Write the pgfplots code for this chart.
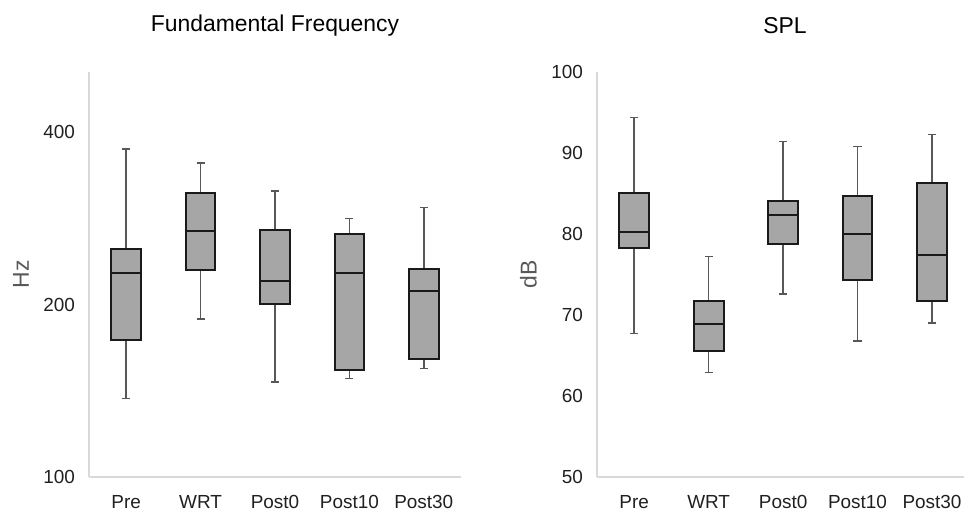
\documentclass[border=0pt]{standalone}
\usepackage{fontspec}
\setmainfont{Liberation Sans}
\usepackage{pgfplots}
\pgfplotsset{compat=1.18}
\definecolor{boxgray}{HTML}{A6A6A6}
\definecolor{boxedge}{HTML}{1A1A1A}
\definecolor{whisk}{HTML}{585858}
\definecolor{axgray}{HTML}{D9D9D9}
\definecolor{labgray}{HTML}{595959}
\definecolor{tickc}{HTML}{202020}
\pgfplotsset{
  whiskline/.style={draw=whisk, line width=1.6bp, mark=none},
  boxline/.style={draw=boxedge, line width=2bp, fill=boxgray, mark=none},
  medline/.style={draw=boxedge, line width=2bp, mark=none},
  mybox/.style={
    scale only axis,
    height=405bp,
    xmin=0.5,
    clip=false,
    axis x line*=bottom, axis y line*=left,
    axis line style={draw=axgray, line width=1.2bp, -},
    major tick length=0pt,
    xtick={1,2,3,4,5},
    xticklabels={Pre,WRT,Post0,Post10,Post30},
    /pgf/number format/assume math mode=true,
    ticklabel style={font=\fontsize{19}{21}\selectfont, text=tickc},
    xticklabel style={yshift=-14.5bp},
    yticklabel style={xshift=-10.5bp},
    title style={font=\fontsize{23}{26}\selectfont, anchor=center},
    ylabel style={font=\fontsize{23}{26}\selectfont, text=labgray, anchor=center},
  }
}
% position, lower whisker, lower quartile, median, upper quartile, upper whisker
\newcommand{\bxp}[6]{%
  \pgfmathsetmacro{\xl}{#1-0.2}\pgfmathsetmacro{\xr}{#1+0.2}%
  \pgfmathsetmacro{\cl}{#1-0.055}\pgfmathsetmacro{\cr}{#1+0.055}%
  \edef\tmp{%
  \noexpand\addplot[whiskline] coordinates {(#1,#5) (#1,#6)};
  \noexpand\addplot[whiskline] coordinates {(#1,#2) (#1,#3)};
  \noexpand\addplot[whiskline] coordinates {(\cl,#6) (\cr,#6)};
  \noexpand\addplot[whiskline] coordinates {(\cl,#2) (\cr,#2)};
  \noexpand\addplot[boxline] coordinates {(\xl,#3) (\xr,#3) (\xr,#5) (\xl,#5)} --cycle;
  \noexpand\addplot[medline] coordinates {(\xl,#4) (\xr,#4)};
  }\tmp}
\begin{document}
\begin{tikzpicture}
\useasboundingbox (0,0) rectangle (971bp,513bp);
% Left: Fundamental Frequency
\begin{axis}[mybox,
  at={(89bp,36bp)}, anchor=south west,
  width=372bp, xmax=5.5,
  ymode=log,
  ymin=100, ymax=510,
  ytick={100,200,400}, yticklabels={100,200,400},
  title={Fundamental Frequency},
  title style={at={(axis description cs:0.5,1.10)}},
  ylabel={Hz},
  ylabel style={at={(axis description cs:-0.183,0.5)}},
]
\bxp{1}{137.2}{173.5}{227.5}{250.5}{374.5}
\bxp{2}{189}{230}{269}{314}{354}
\bxp{3}{146.6}{200.3}{220}{270}{316}
\bxp{4}{148.7}{153.6}{227.5}{266}{283}
\bxp{5}{154.6}{160.6}{211.6}{231}{295.5}
\end{axis}
% Right: SPL
\begin{axis}[mybox,
  at={(597bp,36bp)}, anchor=south west,
  width=367bp, xmax=5.43,
  ymin=50, ymax=100,
  ytick={50,60,70,80,90,100},
  title={SPL},
  title style={at={(axis description cs:0.512,1.10)}},
  ylabel={dB},
  ylabel style={at={(axis description cs:-0.187,0.5)}},
]
\bxp{1}{67.7}{78.3}{80.2}{85.1}{94.4}
\bxp{2}{62.9}{65.6}{68.9}{71.7}{77.2}
\bxp{3}{72.6}{78.8}{82.3}{84.1}{91.4}
\bxp{4}{66.8}{74.3}{80.0}{84.7}{90.8}
\bxp{5}{69.0}{71.7}{77.4}{86.3}{92.3}
\end{axis}
\end{tikzpicture}
\end{document}
